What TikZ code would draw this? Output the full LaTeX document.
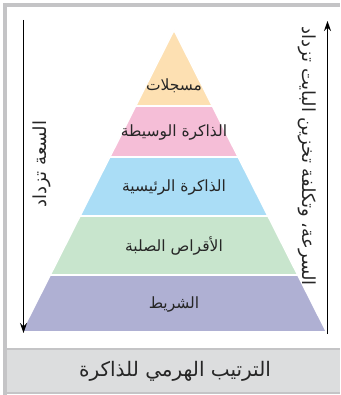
\documentclass[tikz,border=0pt]{standalone}
\usepackage{fontspec}
\usetikzlibrary{arrows.meta}
\newfontfamily\arabicfont[Script=Arabic]{DejaVu Sans}
\TeXXeTstate=1
\definecolor{bandA}{RGB}{253,224,178}
\definecolor{bandB}{RGB}{245,190,215}
\definecolor{bandC}{RGB}{170,221,246}
\definecolor{bandD}{RGB}{200,229,205}
\definecolor{bandE}{RGB}{175,176,211}
\definecolor{framegray}{RGB}{196,196,198}
\definecolor{capfill}{RGB}{220,221,222}
\tikzset{
  band/.style={draw=white,line width=1.6pt},
  lbl/.style={font=\arabicfont\fontsize{15.5}{18}\selectfont,text=black!85,inner sep=0pt},
  sidelbl/.style={font=\arabicfont\fontsize{18}{20}\selectfont,text=black!85,inner sep=0pt},
  axis/.style={line width=1.1pt,-{Stealth[length=10pt,width=7pt]}}
}
\begin{document}
\begin{tikzpicture}[x=1pt,y=-1pt]
\useasboundingbox (0,0) rectangle (340,395);
% frame
\fill[capfill] (5,348) rectangle (340,393);
\draw[framegray,line width=2pt] (5,348.5) -- (340,348.5);
\draw[framegray,line width=2pt] (5,393) -- (340,393);
\draw[framegray,line width=3.5pt] (3.5,5) -- (340,5);
\draw[framegray,line width=3.5pt] (5,3.5) -- (5,395);
% pyramid
\fill[bandA,band] (174,30) -- (212.4,106) -- (135.6,106) -- cycle;
\fill[bandB,band] (135.6,106) -- (212.4,106) -- (238.2,157) -- (109.8,157) -- cycle;
\fill[bandC,band] (109.8,157) -- (238.2,157) -- (268.0,216) -- (80.0,216) -- cycle;
\fill[bandD,band] (80.0,216) -- (268.0,216) -- (297.8,275) -- (50.2,275) -- cycle;
\fill[bandE,band] (50.2,275) -- (297.8,275) -- (326.6,332) -- (21.4,332) -- cycle;
\draw[white,line width=1.6pt] (130,106) -- (218,106);
\draw[white,line width=1.6pt] (100,157) -- (248,157);
\draw[white,line width=1.6pt] (70,216) -- (278,216);
\draw[white,line width=1.6pt] (40,275) -- (308,275);
% labels
\node[lbl] (l1) at (174,86) {\beginR مسجلات\endR};
\node[lbl] (l2) at (174,133) {\beginR الذاكرة الوسيطة\endR};
\node[lbl] (l3) at (174,188) {\beginR الذاكرة الرئيسية\endR};
\node[lbl] (l4) at (174,246) {\beginR الأقراص الصلبة\endR};
\node[lbl] (l5) at (174,305) {\beginR الشريط\endR};
% arrows
\coordinate (ltop) at (23.5,20);
\coordinate (lbot) at (23.5,333);
\coordinate (rbot) at (327.5,334);
\coordinate (rtop) at (327.5,21);
\draw[axis] (ltop) -- (lbot);
\draw[axis] (rbot) -- (rtop);
\node[sidelbl,rotate=90] (lt) at (42,164) {\beginR السعة تزداد\endR};
\node[sidelbl,rotate=-90] (rt) at (307,156) {\beginR السرعة، وتكلفة تخزين البايت تزداد\endR};
% caption
\node[font=\arabicfont\fontsize{20}{24}\selectfont,text=black!85,inner sep=0pt] (cap) at (175,371) {\beginR الترتيب الهرمي للذاكرة\endR};
\end{tikzpicture}
\end{document}
